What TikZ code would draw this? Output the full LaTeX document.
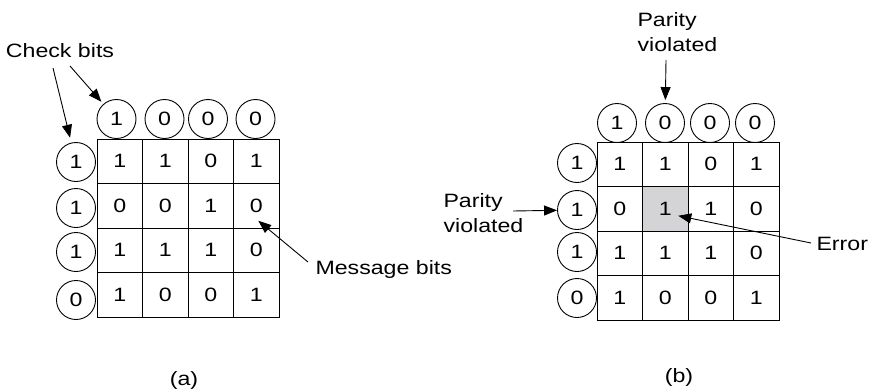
\documentclass[tikz,border=0pt]{standalone}
\usepackage{fontspec}
\setmainfont{Liberation Sans}[FakeStretch=1.2]
\usetikzlibrary{arrows.meta}
\definecolor{errgray}{RGB}{212,212,214}

\begin{document}
\begin{tikzpicture}[x=1pt, y=-1pt, font=\fontsize{19.3}{25}\selectfont,
    bitcirc/.style={circle, draw, line width=0.9pt, minimum size=39pt, inner sep=0pt},
    bitcell/.style={rectangle, draw, line width=0.9pt, minimum width=45.5pt, minimum height=44.5pt, inner sep=0pt},
    pointer/.style={-{Triangle[length=13pt,width=10pt]}, line width=0.9pt}]
  \useasboundingbox (0,0) rectangle (869,391);
  \def\cw{45.5}
  \def\ch{44.5}

  % (a) the block with its check bits
  \begin{scope}[shift={(97,139)}]
    \foreach \r/\row in {1/{1,1,0,1}, 2/{0,0,1,0}, 3/{1,1,1,0}, 4/{1,0,0,1}}
      \foreach \b [count=\c] in \row
        \node[bitcell] (a-\r-\c) at ({(\c-0.5)*\cw}, {(\r-0.5)*\ch}) {\b};
    \foreach \x/\b [count=\c] in {19.5/1, 67.5/0, 111/0, 158.5/0}
      \node[bitcirc] (at\c) at (\x, -20) {\b};
    \foreach \y/\b [count=\r] in {23/1, 69/1, 113/1, 161/0}
      \node[bitcirc] (al\r) at (-21, \y) {\b};
  \end{scope}

  \node (checkbits) at (60,51) {Check bits};
  \coordinate (chk-l) at (53,68);
  \coordinate (chk-t) at (70,66);
  \draw[pointer, shorten >=5pt] (chk-l) -- (al1);
  \draw[pointer, shorten >=3pt] (chk-t) -- (at1);

  \node[anchor=west] (msgbits) at (312,270) {Message bits};
  \draw[pointer] ([shift={(-4,-8)}]msgbits.west) -- ([shift={(2,15)}]a-2-4.center);

  \node (capA) at (184,380) {(a)};

  % (b) one bit flipped
  \begin{scope}[shift={(597,142)}]
    \fill[errgray] (\cw,\ch) rectangle ({2*\cw},{2*\ch});
    \foreach \r/\row in {1/{1,1,0,1}, 2/{0,1,1,0}, 3/{1,1,1,0}, 4/{1,0,0,1}}
      \foreach \b [count=\c] in \row
        \node[bitcell] (b-\r-\c) at ({(\c-0.5)*\cw}, {(\r-0.5)*\ch}) {\b};
    \foreach \x/\b [count=\c] in {20/1, 68/0, 113/0, 158/0}
      \node[bitcirc] (bt\c) at (\x, -19) {\b};
    \foreach \y/\b [count=\r] in {21/1, 68/1, 110/1, 156/0}
      \node[bitcirc] (bl\r) at (-20, \y) {\b};
  \end{scope}

  \node[align=left, anchor=west] (partop) at (634,32) {Parity\\violated};
  \coordinate (pt-tail) at (666,60);
  \draw[pointer, shorten >=3pt] (pt-tail) -- (bt2);

  \node[align=left, anchor=west] (parleft) at (440,213) {Parity\\violated};
  \coordinate (pl-tail) at (513,211);
  \draw[pointer] (pl-tail) -- (bl2);

  \node[anchor=west] (err) at (813,244) {Error};
  \draw[pointer] ([shift={(-2,-1)}]err.west) -- ([shift={(13,7)}]b-2-2.center);

  \node (capB) at (679,377) {(b)};
\end{tikzpicture}
\end{document}
